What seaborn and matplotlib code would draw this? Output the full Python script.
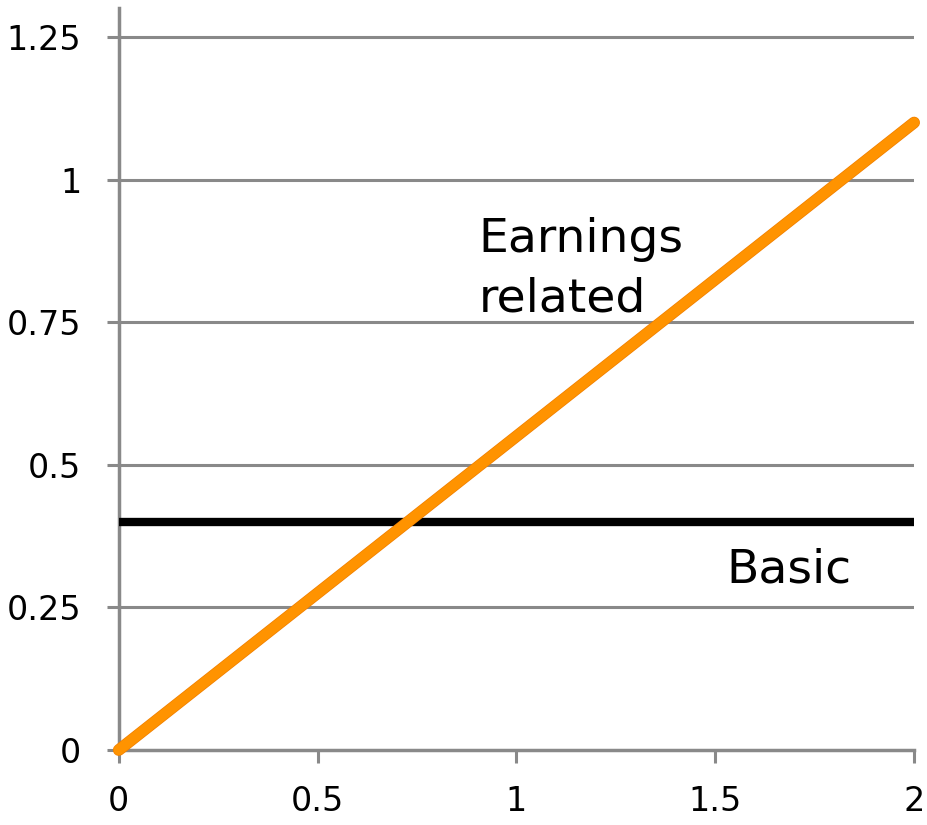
import matplotlib
matplotlib.use("Agg")
import matplotlib.pyplot as plt
import matplotlib.patheffects as pe
import seaborn as sns
import pandas as pd

# Data
x_vals = [0, 2]
earnings_related = [0, 1.1]
basic = [0.4, 0.4]
x_ticks = [0, 0.5, 1, 1.5, 2]
x_tick_labels = ["0", "0.5", "1", "1.5", "2"]
y_ticks = [0, 0.25, 0.5, 0.75, 1, 1.25]
y_tick_labels = ["0", "0.25", "0.5", "0.75", "1", "1.25"]

sns.set_style("white")
plt.rcParams['font.family'] = ['DejaVu Sans']
plt.rcParams['text.color'] = 'black'
plt.rcParams['xtick.color'] = 'black'
plt.rcParams['ytick.color'] = 'black'

fig = plt.figure(figsize=(9.28, 8.25), dpi=100)
ax = fig.add_axes([0.128, 0.0909, 0.857, 0.8988])

grid_col = "#898989"
for yv in y_ticks[1:]:
    ax.axhline(yv, color=grid_col, lw=2.2, zorder=1)

df_b = pd.DataFrame({"x": x_vals, "y": basic})
df_e = pd.DataFrame({"x": x_vals, "y": earnings_related})
sns.lineplot(data=df_b, x="x", y="y", ax=ax, color="black", lw=6, zorder=3)
sns.lineplot(data=df_e, x="x", y="y", ax=ax, color="#FF9300", lw=7.5,
             solid_capstyle="round", zorder=4)
ax.lines[-1].set_path_effects([pe.Stroke(linewidth=8.5, foreground="#F07F00",
                                         capstyle="round"), pe.Normal()])
ax.lines[-1].set_clip_on(False)

ax.set_xlim(0, 2)
ax.set_ylim(0, 1.3)
ax.set_xticks(x_ticks)
ax.set_xticklabels(x_tick_labels)
ax.set_yticks(y_ticks)
ax.set_yticklabels(y_tick_labels)
ax.set_xlabel("")
ax.set_ylabel("")

for s in ["top", "right"]:
    ax.spines[s].set_visible(False)
for s in ["left", "bottom"]:
    ax.spines[s].set_color(grid_col)
    ax.spines[s].set_linewidth(2.5)
    ax.spines[s].set_zorder(2)

ax.tick_params(axis="both", which="major", bottom=True, left=True, direction="out",
               length=9, width=2.2, color=grid_col, labelcolor="black", labelsize=24)
ax.tick_params(axis="y", pad=18)
ax.tick_params(axis="x", pad=16)

ax.text(0.905, 0.873, "Earnings", fontsize=34, ha="left", va="baseline", color="black")
ax.text(0.905, 0.768, "related", fontsize=34, ha="left", va="baseline", color="black")
ax.text(1.527, 0.293, "Basic", fontsize=34, ha="left", va="baseline", color="black")

fig.savefig("out.png", dpi=100)
